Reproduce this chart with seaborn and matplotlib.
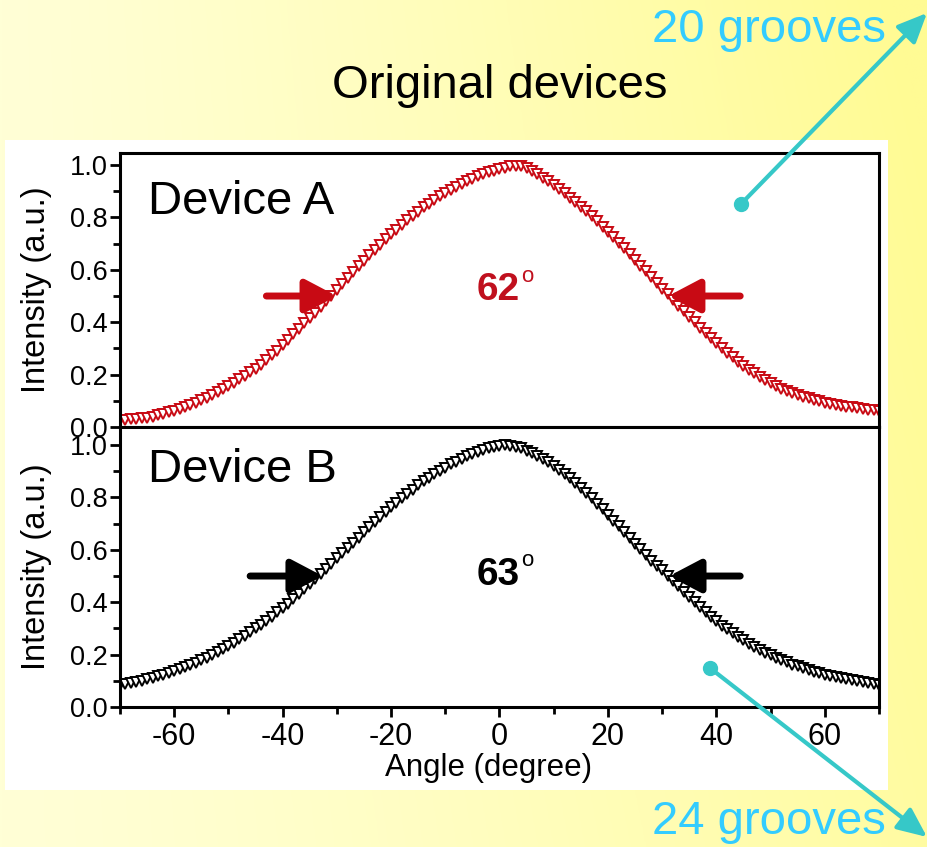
import numpy as np
import pandas as pd
import matplotlib
matplotlib.use("Agg")
import matplotlib.pyplot as plt
from matplotlib.patches import Rectangle, FancyArrowPatch
from matplotlib.lines import Line2D
from matplotlib.ticker import MultipleLocator, FormatStrFormatter
import seaborn as sns

# Far-field angular intensity profiles (normalised), 1 degree steps
angle = list(range(-70, 71))

device_a = [
    0.025, 0.027, 0.029, 0.031, 0.033, 0.036, 0.040, 0.045, 0.050, 0.056,
    0.062, 0.069, 0.077, 0.085, 0.093, 0.102, 0.111, 0.121, 0.132, 0.144,
    0.156, 0.169, 0.182, 0.196, 0.210, 0.222, 0.238, 0.255, 0.273, 0.292,
    0.312, 0.333, 0.354, 0.375, 0.396, 0.416, 0.436, 0.458, 0.480, 0.502,
    0.524, 0.547, 0.570, 0.592, 0.614, 0.635, 0.656, 0.676, 0.696, 0.716,
    0.735, 0.753, 0.771, 0.789, 0.806, 0.822, 0.838, 0.853, 0.867, 0.881,
    0.894, 0.906, 0.918, 0.929, 0.939, 0.948, 0.957, 0.965, 0.972, 0.979,
    0.985, 0.990, 0.995, 0.998, 0.995, 0.987, 0.977, 0.965, 0.952, 0.939,
    0.924, 0.909, 0.893, 0.876, 0.859, 0.841, 0.823, 0.804, 0.785, 0.765,
    0.745, 0.724, 0.703, 0.682, 0.660, 0.638, 0.616, 0.594, 0.572, 0.550,
    0.528, 0.506, 0.484, 0.462, 0.441, 0.420, 0.399, 0.379, 0.359, 0.339,
    0.320, 0.302, 0.284, 0.267, 0.250, 0.234, 0.219, 0.205, 0.192, 0.179,
    0.167, 0.156, 0.146, 0.137, 0.129, 0.122, 0.115, 0.109, 0.103, 0.098,
    0.093, 0.089, 0.085, 0.081, 0.078, 0.075, 0.072, 0.069, 0.066, 0.063,
    0.060,
]

device_b = [
    0.085, 0.089, 0.093, 0.097, 0.101, 0.106, 0.111, 0.117, 0.123, 0.130,
    0.137, 0.144, 0.152, 0.160, 0.169, 0.178, 0.188, 0.199, 0.210, 0.221,
    0.233, 0.246, 0.259, 0.272, 0.286, 0.300, 0.314, 0.329, 0.345, 0.361,
    0.378, 0.395, 0.413, 0.431, 0.450, 0.469, 0.488, 0.507, 0.527, 0.547,
    0.567, 0.587, 0.607, 0.627, 0.647, 0.667, 0.687, 0.706, 0.725, 0.744,
    0.762, 0.780, 0.797, 0.814, 0.830, 0.846, 0.861, 0.875, 0.889, 0.902,
    0.914, 0.926, 0.937, 0.947, 0.957, 0.966, 0.974, 0.981, 0.988, 0.993,
    0.997, 0.999, 0.997, 0.993, 0.987, 0.979, 0.970, 0.960, 0.948, 0.935,
    0.921, 0.906, 0.890, 0.873, 0.855, 0.836, 0.817, 0.797, 0.776, 0.755,
    0.734, 0.712, 0.690, 0.668, 0.646, 0.624, 0.602, 0.580, 0.558, 0.537,
    0.522, 0.502, 0.482, 0.461, 0.440, 0.420, 0.400, 0.381, 0.362, 0.345,
    0.327, 0.311, 0.296, 0.281, 0.267, 0.254, 0.241, 0.229, 0.218, 0.207,
    0.197, 0.187, 0.178, 0.170, 0.162, 0.155, 0.148, 0.141, 0.135, 0.129,
    0.124, 0.119, 0.114, 0.110, 0.106, 0.102, 0.098, 0.094, 0.091, 0.088,
    0.085,
]

panel_labels = ["Device A", "Device B"]
fwhm_labels = ["62", "63"]
# half-maximum arrows: (tail, tip) angles for the left and right arrow
fwhm_arrows = [[(-43.0, -30.0), (44.4, 31.1)],
               [(-46.0, -32.6), (44.4, 31.3)]]
arrow_level = 0.5
title_text = "Original devices"
groove_labels = ["20 grooves", "24 grooves"]

red = "#C80A14"
teal = "#36C8C8"
sky = "#33CCFF"

sns.set_style("ticks")
plt.rcParams["font.family"] = ["Liberation Sans", "DejaVu Sans"]
plt.rcParams["axes.unicode_minus"] = False
for key in ["text.color", "axes.labelcolor", "xtick.color", "ytick.color",
            "axes.edgecolor"]:
    plt.rcParams[key] = "black"

W, H = 928, 847
fig = plt.figure(figsize=(W / 100, H / 100), dpi=100)


def fxy(x, y):
    """pixel position (from top-left) -> figure fraction"""
    return (x / W, 1 - y / H)


# yellow gradient backdrop
bg = fig.add_axes([0, 0, 1, 1])
bg.set_zorder(-10)
u = np.linspace(0, 1, 300)[None, :]
v = np.linspace(0, 1, 300)[:, None]
t = np.clip(0.8 * u ** 1.3 + 0.25 * u * (1 - v), 0, 1)
pale = np.array([255, 255, 214]) / 255
sat = np.array([255, 251, 148]) / 255
img = pale[None, None, :] * (1 - t[..., None]) + sat[None, None, :] * t[..., None]
bg.imshow(img, extent=[0, 1, 0, 1], aspect="auto", origin="upper")
bg.set_axis_off()

# white panel behind the plots
x0, y1 = fxy(5, 140)
x1, y0 = fxy(888, 790)
fig.add_artist(Rectangle((x0, y0), x1 - x0, y1 - y0, transform=fig.transFigure,
                         facecolor="white", edgecolor="none", zorder=-5))

left = 120 / W
width = (879 - 120) / W
ax_top = fig.add_axes([left, (H - 427) / H, width, (427 - 153) / H])
ax_bot = fig.add_axes([left, (H - 707) / H, width, (707 - 427) / H])

series = [device_a, device_b]
colors = [red, "black"]
ylims = [(0, 1.046), (0, 1.069)]

for i, ax in enumerate([ax_top, ax_bot]):
    df = pd.DataFrame({"Angle": angle, "Intensity": series[i]})
    sns.lineplot(data=df, x="Angle", y="Intensity", ax=ax, marker="v",
                 markersize=6.5, markerfacecolor="white",
                 markeredgecolor=colors[i], markeredgewidth=1.4,
                 color=colors[i])
    for ln in ax.lines:
        ln.set_linestyle("none")
    ax.set_facecolor("white")
    ax.set_xlim(-70, 70)
    ax.set_ylim(*ylims[i])
    ax.xaxis.set_major_locator(MultipleLocator(20))
    ax.xaxis.set_minor_locator(MultipleLocator(10))
    ax.yaxis.set_major_locator(MultipleLocator(0.2))
    ax.yaxis.set_minor_locator(MultipleLocator(0.1))
    ax.yaxis.set_major_formatter(FormatStrFormatter("%.1f"))
    for s in ax.spines.values():
        s.set_visible(True)
        s.set_linewidth(2.2)
        s.set_color("black")
    ax.tick_params(axis="both", which="major", direction="out", length=7,
                   width=2.0, color="black")
    ax.tick_params(axis="both", which="minor", direction="out", length=5,
                   width=2.0, color="black")
    ax.tick_params(axis="y", which="major", labelsize=19.5, pad=2)
    ax.tick_params(axis="x", which="major", labelsize=22, pad=4)
    ax.tick_params(top=False, right=False, which="both")
    ax.set_ylabel("Intensity (a.u.)", fontsize=23.5)
    ax.yaxis.set_label_coords(-0.09, 0.5)

    ax.text(0.037, 0.82 if i == 0 else 0.846, panel_labels[i],
            transform=ax.transAxes, fontsize=34, ha="left", va="center")

    for tail, tip in fwhm_arrows[i]:
        ax.annotate("", xy=(tip, arrow_level), xytext=(tail, arrow_level),
                    arrowprops=dict(arrowstyle="-|>,head_length=0.95,head_width=0.5",
                                    lw=5, color=colors[i], mutation_scale=20,
                                    shrinkA=0, shrinkB=0, capstyle="round"))

    txt_color = "#C0101E" if i == 0 else "black"
    ax.text(3.8, 0.523 if i == 0 else 0.504, fwhm_labels[i], fontsize=28,
            fontweight="bold", color=txt_color, ha="right", va="center")
    ax.text(4.0, 0.615 if i == 0 else 0.60, "o", fontsize=16,
            color=txt_color, ha="left", va="top")

ax_top.set_xlabel("")
ax_top.tick_params(axis="x", labelbottom=False)
ax_bot.set_xlabel("Angle (degree)", fontsize=22.5)
ax_bot.xaxis.set_label_coords(0.485, -0.165)
ax_bot.xaxis.label.set_va("top")

# headings
fig.text(*fxy(500, 86), title_text, fontsize=34, ha="center", va="center")
fig.text(*fxy(886, 30), groove_labels[0], fontsize=34, color=sky,
         ha="right", va="center")
fig.text(*fxy(886, 822), groove_labels[1], fontsize=34, color=sky,
         ha="right", va="center")

# pointer arrows from the panels to the groove labels
for start, end in [((741, 204), (927, 13)), ((710, 668), (927, 837))]:
    fig.add_artist(FancyArrowPatch(fxy(*start), fxy(*end),
                                   transform=fig.transFigure,
                                   arrowstyle="-|>,head_length=0.9,head_width=0.4",
                                   mutation_scale=20, lw=3, color=teal,
                                   shrinkA=0, shrinkB=0, zorder=20))
    fig.add_artist(Line2D([fxy(*start)[0]], [fxy(*start)[1]],
                          transform=fig.transFigure, marker="o", ms=10,
                          color=teal, zorder=21))

fig.savefig("out.png", dpi=100)
